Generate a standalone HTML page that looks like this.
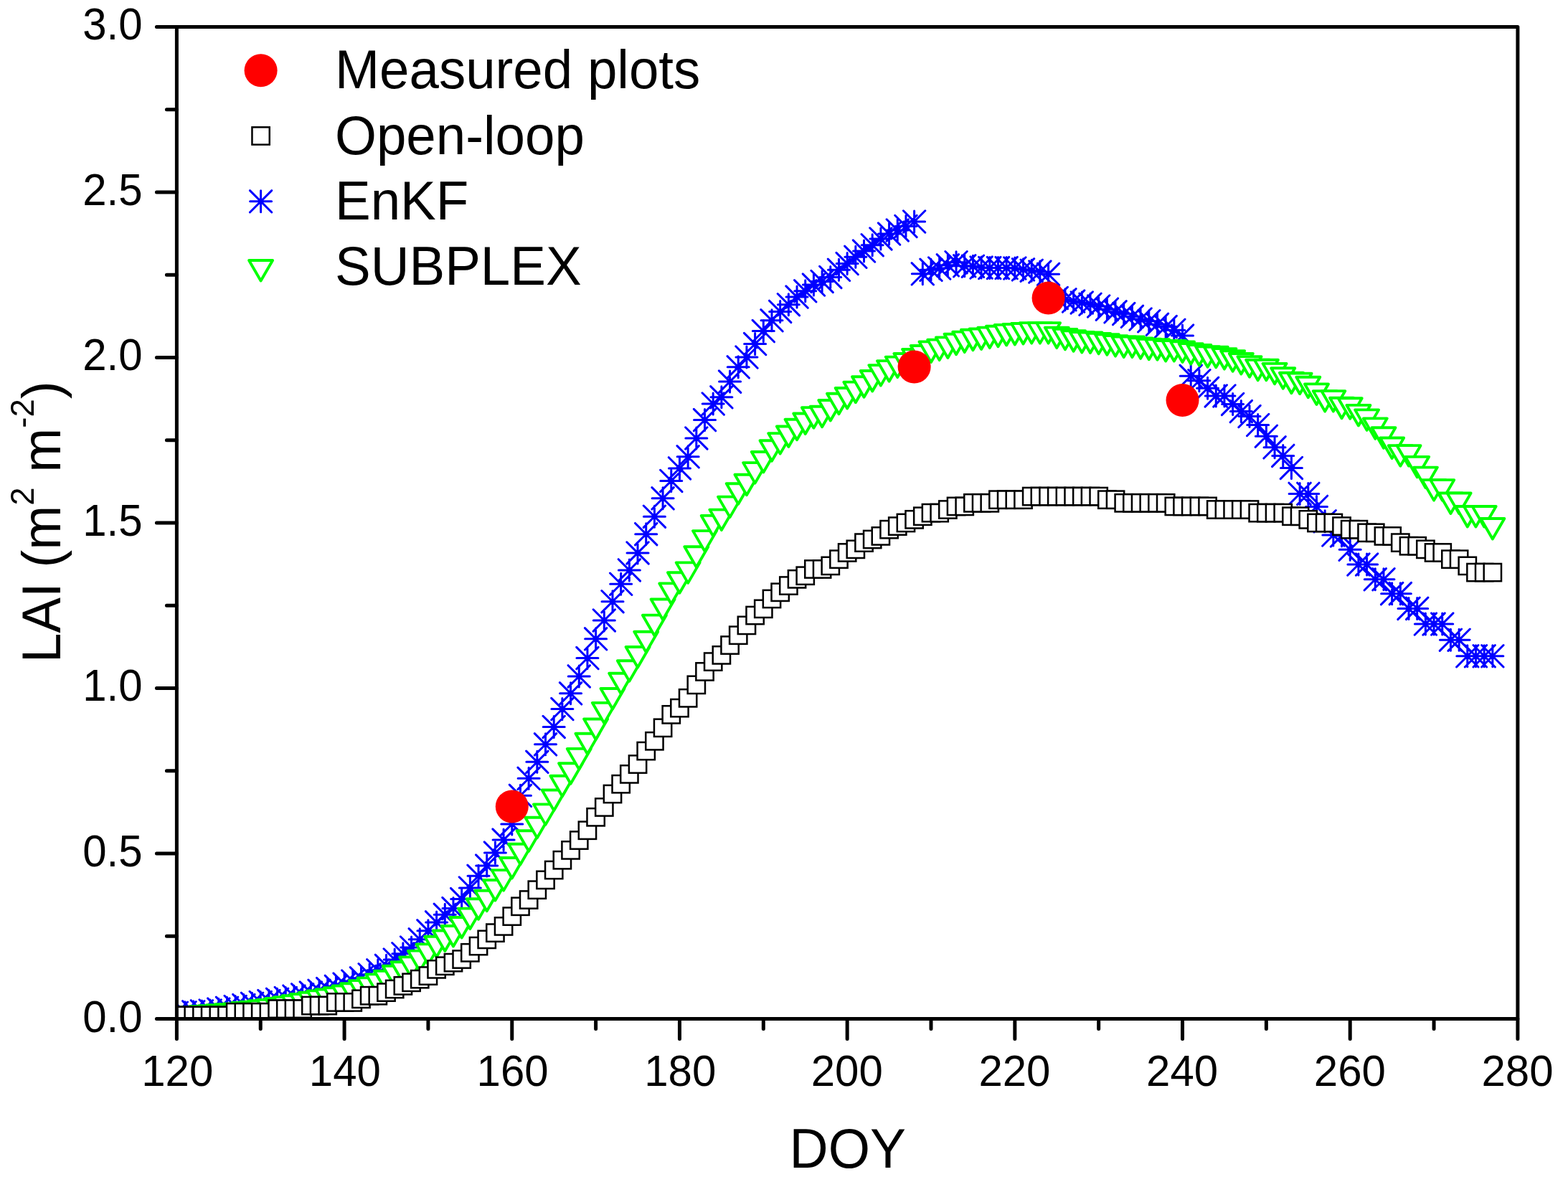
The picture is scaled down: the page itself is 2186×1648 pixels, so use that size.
<!DOCTYPE html>
<html><head><meta charset="utf-8"><title>LAI chart</title>
<style>html,body{margin:0;padding:0;background:#fff;}svg{display:block;}text{font-family:"Liberation Sans",Arial,sans-serif;fill:#000;}</style></head><body>
<svg width="2186" height="1648" viewBox="0 0 2186 1648">
<rect width="2186" height="1648" fill="#fff"/>
<defs><clipPath id="pc"><rect x="246.4" y="37.45" width="1869.5" height="1383.05"/></clipPath></defs>
<g clip-path="url(#pc)">
<path d="M231.4 1412.2H261.4M246.4 1397.2V1427.2M231.2 1397L261.6 1427.4M231.2 1427.4L261.6 1397M243.08 1411.74H273.08M258.08 1396.74V1426.74M242.88 1396.54L273.28 1426.94M242.88 1426.94L273.28 1396.54M254.77 1410.82H284.77M269.77 1395.82V1425.82M254.57 1395.62L284.97 1426.02M254.57 1426.02L284.97 1395.62M266.45 1409.9H296.45M281.45 1394.9V1424.9M266.25 1394.7L296.65 1425.1M266.25 1425.1L296.65 1394.7M278.14 1408.97H308.14M293.14 1393.97V1423.97M277.94 1393.77L308.34 1424.17M277.94 1424.17L308.34 1393.77M289.82 1407.13H319.82M304.82 1392.13V1422.13M289.62 1391.93L320.02 1422.33M289.62 1422.33L320.02 1391.93M301.51 1405.29H331.51M316.51 1390.29V1420.29M301.31 1390.09L331.71 1420.49M301.31 1420.49L331.71 1390.09M313.19 1403.44H343.19M328.19 1388.44V1418.44M312.99 1388.24L343.39 1418.64M312.99 1418.64L343.39 1388.24M324.88 1401.6H354.88M339.88 1386.6V1416.6M324.68 1386.4L355.07 1416.8M324.68 1416.8L355.07 1386.4M336.56 1399.29H366.56M351.56 1384.29V1414.29M336.36 1384.09L366.76 1414.49M336.36 1414.49L366.76 1384.09M348.24 1397.45H378.24M363.24 1382.45V1412.45M348.04 1382.25L378.44 1412.65M348.04 1412.65L378.44 1382.25M359.93 1395.61H389.93M374.93 1380.61V1410.61M359.73 1380.41L390.13 1410.81M359.73 1410.81L390.13 1380.41M371.61 1393.3H401.61M386.61 1378.3V1408.3M371.41 1378.1L401.81 1408.5M371.41 1408.5L401.81 1378.1M383.3 1391.46H413.3M398.3 1376.46V1406.46M383.1 1376.26L413.5 1406.66M383.1 1406.66L413.5 1376.26M394.98 1389.15H424.98M409.98 1374.15V1404.15M394.78 1373.95L425.18 1404.35M394.78 1404.35L425.18 1373.95M406.67 1386.85H436.67M421.67 1371.85V1401.85M406.47 1371.65L436.87 1402.05M406.47 1402.05L436.87 1371.65M418.35 1384.08H448.35M433.35 1369.08V1399.08M418.15 1368.88L448.55 1399.28M418.15 1399.28L448.55 1368.88M430.03 1381.31H460.03M445.03 1366.31V1396.31M429.83 1366.11L460.23 1396.51M429.83 1396.51L460.23 1366.11M441.72 1378.55H471.72M456.72 1363.55V1393.55M441.52 1363.35L471.92 1393.75M441.52 1393.75L471.92 1363.35M453.4 1375.32H483.4M468.4 1360.32V1390.32M453.2 1360.12L483.6 1390.52M453.2 1390.52L483.6 1360.12M465.09 1372.09H495.09M480.09 1357.09V1387.09M464.89 1356.89L495.29 1387.29M464.89 1387.29L495.29 1356.89M476.77 1367.94H506.77M491.77 1352.94V1382.94M476.57 1352.74L506.97 1383.14M476.57 1383.14L506.97 1352.74M488.46 1363.79H518.46M503.46 1348.79V1378.79M488.26 1348.59L518.66 1378.99M488.26 1378.99L518.66 1348.59M500.14 1358.72H530.14M515.14 1343.72V1373.72M499.94 1343.52L530.34 1373.92M499.94 1373.92L530.34 1343.52M511.82 1352.73H541.82M526.82 1337.73V1367.73M511.62 1337.53L542.02 1367.93M511.62 1367.93L542.02 1337.53M523.51 1346.28H553.51M538.51 1331.28V1361.28M523.31 1331.08L553.71 1361.48M523.31 1361.48L553.71 1331.08M535.19 1337.98H565.19M550.19 1322.98V1352.98M534.99 1322.78L565.39 1353.18M534.99 1353.18L565.39 1322.78M546.88 1329.68H576.88M561.88 1314.68V1344.68M546.68 1314.48L577.08 1344.88M546.68 1344.88L577.08 1314.48M558.56 1320.92H588.56M573.56 1305.92V1335.92M558.36 1305.72L588.76 1336.12M558.36 1336.12L588.76 1305.72M570.25 1309.86H600.25M585.25 1294.86V1324.86M570.05 1294.66L600.45 1325.06M570.05 1325.06L600.45 1294.66M581.93 1297.87H611.93M596.93 1282.87V1312.87M581.73 1282.67L612.13 1313.07M581.73 1313.07L612.13 1282.67M593.62 1285.88H623.62M608.62 1270.88V1300.88M593.42 1270.68L623.82 1301.08M593.42 1301.08L623.82 1270.68M605.3 1275.28H635.3M620.3 1260.28V1290.28M605.1 1260.08L635.5 1290.48M605.1 1290.48L635.5 1260.08M616.98 1266.52H646.98M631.98 1251.52V1281.52M616.78 1251.32L647.18 1281.72M616.78 1281.72L647.18 1251.32M628.67 1253.61H658.67M643.67 1238.61V1268.61M628.47 1238.41L658.87 1268.81M628.47 1268.81L658.87 1238.41M640.35 1237.94H670.35M655.35 1222.94V1252.94M640.15 1222.74L670.55 1253.14M640.15 1253.14L670.55 1222.74M652.04 1221.34H682.04M667.04 1206.34V1236.34M651.84 1206.14L682.24 1236.54M651.84 1236.54L682.24 1206.14M663.72 1207.05H693.72M678.72 1192.05V1222.05M663.52 1191.85L693.92 1222.25M663.52 1222.25L693.92 1191.85M675.41 1189.07H705.41M690.41 1174.07V1204.07M675.21 1173.87L705.61 1204.27M675.21 1204.27L705.61 1173.87M687.09 1171.09H717.09M702.09 1156.09V1186.09M686.89 1155.89L717.29 1186.29M686.89 1186.29L717.29 1155.89M698.77 1148.96H728.77M713.77 1133.96V1163.96M698.57 1133.76L728.98 1164.16M698.57 1164.16L728.98 1133.76M710.46 1109.31H740.46M725.46 1094.31V1124.31M710.26 1094.11L740.66 1124.51M710.26 1124.51L740.66 1094.11M722.14 1085.34H752.14M737.14 1070.34V1100.34M721.94 1070.14L752.34 1100.54M721.94 1100.54L752.34 1070.14M733.83 1062.29H763.83M748.83 1047.29V1077.29M733.63 1047.09L764.03 1077.49M733.63 1077.49L764.03 1047.09M745.51 1037.86H775.51M760.51 1022.86V1052.86M745.31 1022.66L775.71 1053.06M745.31 1053.06L775.71 1022.66M757.2 1013.42H787.2M772.2 998.42V1028.42M757 998.22L787.4 1028.62M757 1028.62L787.4 998.22M768.88 988.53H798.88M783.88 973.53V1003.53M768.68 973.33L799.08 1003.73M768.68 1003.73L799.08 973.33M780.57 966.86H810.57M795.57 951.86V981.86M780.37 951.66L810.77 982.06M780.37 982.06L810.77 951.66M792.25 942.89H822.25M807.25 927.89V957.89M792.05 927.69L822.45 958.09M792.05 958.09L822.45 927.69M803.93 917.53H833.93M818.93 902.53V932.53M803.73 902.33L834.13 932.73M803.73 932.73L834.13 902.33M815.62 890.79H845.62M830.62 875.79V905.79M815.42 875.59L845.82 905.99M815.42 905.99L845.82 875.59M827.3 864.97H857.3M842.3 849.97V879.97M827.1 849.77L857.5 880.17M827.1 880.17L857.5 849.77M838.99 838.7H868.99M853.99 823.7V853.7M838.79 823.5L869.19 853.9M838.79 853.9L869.19 823.5M850.67 814.26H880.67M865.67 799.26V829.26M850.47 799.06L880.87 829.46M850.47 829.46L880.87 799.06M862.36 794.9H892.36M877.36 779.9V809.9M862.16 779.7L892.56 810.1M862.16 810.1L892.56 779.7M874.04 770.93H904.04M889.04 755.93V785.93M873.84 755.73L904.24 786.13M873.84 786.13L904.24 755.73M885.72 744.65H915.72M900.72 729.65V759.65M885.52 729.45L915.92 759.85M885.52 759.85L915.92 729.45M897.41 720.22H927.41M912.41 705.22V735.22M897.21 705.02L927.61 735.42M897.21 735.42L927.61 705.02M909.09 694.86H939.09M924.09 679.86V709.86M908.89 679.66L939.29 710.06M908.89 710.06L939.29 679.66M920.78 670.43H950.78M935.78 655.43V685.43M920.58 655.23L950.98 685.63M920.58 685.63L950.98 655.23M932.46 652.91H962.46M947.46 637.91V667.91M932.26 637.71L962.66 668.11M932.26 668.11L962.66 637.71M944.15 636.77H974.15M959.15 621.77V651.77M943.95 621.57L974.35 651.97M943.95 651.97L974.35 621.57M955.83 610.95H985.83M970.83 595.95V625.95M955.63 595.75L986.03 626.15M955.63 626.15L986.03 595.75M967.52 585.6H997.52M982.52 570.6V600.6M967.32 570.4L997.72 600.8M967.32 600.8L997.72 570.4M979.2 563.01H1009.2M994.2 548.01V578.01M979 547.81L1009.4 578.21M979 578.21L1009.4 547.81M990.88 553.79H1020.88M1005.88 538.79V568.79M990.68 538.59L1021.08 568.99M990.68 568.99L1021.08 538.59M1002.57 532.12H1032.57M1017.57 517.12V547.12M1002.37 516.92L1032.77 547.32M1002.37 547.32L1032.77 516.92M1014.25 511.84H1044.25M1029.25 496.84V526.84M1014.05 496.64L1044.45 527.04M1014.05 527.04L1044.45 496.64M1025.94 498.01H1055.94M1040.94 483.01V513.01M1025.74 482.81L1056.14 513.21M1025.74 513.21L1056.14 482.81M1037.62 479.56H1067.62M1052.62 464.56V494.56M1037.42 464.36L1067.82 494.76M1037.42 494.76L1067.82 464.36M1049.31 461.59H1079.31M1064.31 446.59V476.59M1049.11 446.39L1079.51 476.79M1049.11 476.79L1079.51 446.39M1060.99 446.83H1090.99M1075.99 431.83V461.83M1060.79 431.63L1091.19 462.03M1060.79 462.03L1091.19 431.63M1072.67 434.39H1102.67M1087.67 419.39V449.39M1072.47 419.19L1102.88 449.59M1072.47 449.59L1102.88 419.19M1084.36 424.7H1114.36M1099.36 409.7V439.7M1084.16 409.5L1114.56 439.9M1084.16 439.9L1114.56 409.5M1096.04 414.1H1126.04M1111.04 399.1V429.1M1095.84 398.9L1126.24 429.3M1095.84 429.3L1126.24 398.9M1107.73 405.8H1137.73M1122.73 390.8V420.8M1107.53 390.6L1137.93 421M1107.53 421L1137.93 390.6M1119.41 397.04H1149.41M1134.41 382.04V412.04M1119.21 381.84L1149.61 412.24M1119.21 412.24L1149.61 381.84M1131.1 392.43H1161.1M1146.1 377.43V407.43M1130.9 377.23L1161.3 407.63M1130.9 407.63L1161.3 377.23M1142.78 386.44H1172.78M1157.78 371.44V401.44M1142.58 371.24L1172.98 401.64M1142.58 401.64L1172.98 371.24M1154.47 376.3H1184.47M1169.47 361.3V391.3M1154.27 361.1L1184.67 391.5M1154.27 391.5L1184.67 361.1M1166.15 367.54H1196.15M1181.15 352.54V382.54M1165.95 352.34L1196.35 382.74M1165.95 382.74L1196.35 352.34M1177.83 358.32H1207.83M1192.83 343.32V373.32M1177.63 343.12L1208.03 373.52M1177.63 373.52L1208.03 343.12M1189.52 350.02H1219.52M1204.52 335.02V365.02M1189.32 334.82L1219.72 365.22M1189.32 365.22L1219.72 334.82M1201.2 341.72H1231.2M1216.2 326.72V356.72M1201 326.52L1231.4 356.92M1201 356.92L1231.4 326.52M1212.89 332.96H1242.89M1227.89 317.96V347.96M1212.69 317.76L1243.09 348.16M1212.69 348.16L1243.09 317.76M1224.57 326.05H1254.57M1239.57 311.05V341.05M1224.37 310.85L1254.77 341.25M1224.37 341.25L1254.77 310.85M1236.26 320.98H1266.26M1251.26 305.98V335.98M1236.06 305.78L1266.46 336.18M1236.06 336.18L1266.46 305.78M1247.94 315.44H1277.94M1262.94 300.44V330.44M1247.74 300.24L1278.14 330.64M1247.74 330.64L1278.14 300.24M1259.62 308.99H1289.62M1274.62 293.99V323.99M1259.42 293.79L1289.83 324.19M1259.42 324.19L1289.83 293.79M1271.31 381.83H1301.31M1286.31 366.83V396.83M1271.11 366.63L1301.51 397.03M1271.11 397.03L1301.51 366.63M1282.99 376.3H1312.99M1297.99 361.3V391.3M1282.79 361.1L1313.19 391.5M1282.79 391.5L1313.19 361.1M1294.68 373.99H1324.68M1309.68 358.99V388.99M1294.48 358.79L1324.88 389.19M1294.48 389.19L1324.88 358.79M1306.36 369.84H1336.36M1321.36 354.84V384.84M1306.16 354.64L1336.56 385.04M1306.16 385.04L1336.56 354.64M1318.05 365.69H1348.05M1333.05 350.69V380.69M1317.85 350.49L1348.25 380.89M1317.85 380.89L1348.25 350.49M1329.73 370.77H1359.73M1344.73 355.77V385.77M1329.53 355.57L1359.93 385.97M1329.53 385.97L1359.93 355.57M1341.42 371.23H1371.42M1356.42 356.23V386.23M1341.22 356.03L1371.62 386.43M1341.22 386.43L1371.62 356.03M1353.1 373.07H1383.1M1368.1 358.07V388.07M1352.9 357.87L1383.3 388.27M1352.9 388.27L1383.3 357.87M1364.78 373.53H1394.78M1379.78 358.53V388.53M1364.58 358.33L1394.98 388.73M1364.58 388.73L1394.98 358.33M1376.47 373.53H1406.47M1391.47 358.53V388.53M1376.27 358.33L1406.67 388.73M1376.27 388.73L1406.67 358.33M1388.15 373.53H1418.15M1403.15 358.53V388.53M1387.95 358.33L1418.35 388.73M1387.95 388.73L1418.35 358.33M1399.84 373.99H1429.84M1414.84 358.99V388.99M1399.64 358.79L1430.04 389.19M1399.64 389.19L1430.04 358.79M1411.52 375.84H1441.52M1426.52 360.84V390.84M1411.32 360.64L1441.72 391.04M1411.32 391.04L1441.72 360.64M1423.21 377.22H1453.21M1438.21 362.22V392.22M1423.01 362.02L1453.41 392.42M1423.01 392.42L1453.41 362.02M1434.89 379.06H1464.89M1449.89 364.06V394.06M1434.69 363.86L1465.09 394.26M1434.69 394.26L1465.09 363.86M1446.58 382.29H1476.58M1461.58 367.29V397.29M1446.38 367.09L1476.78 397.49M1446.38 397.49L1476.78 367.09M1458.26 415.48H1488.26M1473.26 400.48V430.48M1458.06 400.28L1488.46 430.68M1458.06 430.68L1488.46 400.28M1469.94 417.79H1499.94M1484.94 402.79V432.79M1469.74 402.59L1500.14 432.99M1469.74 432.99L1500.14 402.59M1481.63 420.09H1511.63M1496.63 405.09V435.09M1481.43 404.89L1511.83 435.29M1481.43 435.29L1511.83 404.89M1493.31 421.94H1523.31M1508.31 406.94V436.94M1493.11 406.74L1523.51 437.14M1493.11 437.14L1523.51 406.74M1505 424.24H1535M1520 409.24V439.24M1504.8 409.04L1535.2 439.44M1504.8 439.44L1535.2 409.04M1516.68 427.01H1546.68M1531.68 412.01V442.01M1516.48 411.81L1546.88 442.21M1516.48 442.21L1546.88 411.81M1528.37 431.16H1558.37M1543.37 416.16V446.16M1528.17 415.96L1558.57 446.36M1528.17 446.36L1558.57 415.96M1540.05 434.85H1570.05M1555.05 419.85V449.85M1539.85 419.65L1570.25 450.05M1539.85 450.05L1570.25 419.65M1551.73 437.61H1581.73M1566.73 422.61V452.61M1551.53 422.41L1581.93 452.81M1551.53 452.81L1581.93 422.41M1563.42 441.3H1593.42M1578.42 426.3V456.3M1563.22 426.1L1593.62 456.5M1563.22 456.5L1593.62 426.1M1575.1 444.99H1605.1M1590.1 429.99V459.99M1574.9 429.79L1605.3 460.19M1574.9 460.19L1605.3 429.79M1586.79 447.75H1616.79M1601.79 432.75V462.75M1586.59 432.55L1616.99 462.95M1586.59 462.95L1616.99 432.55M1598.47 452.37H1628.47M1613.47 437.37V467.37M1598.27 437.17L1628.67 467.56M1598.27 467.56L1628.67 437.17M1610.16 455.59H1640.16M1625.16 440.59V470.59M1609.96 440.39L1640.36 470.79M1609.96 470.79L1640.36 440.39M1621.84 460.2H1651.84M1636.84 445.2V475.2M1621.64 445L1652.04 475.4M1621.64 475.4L1652.04 445M1633.53 468.04H1663.53M1648.53 453.04V483.04M1633.33 452.84L1663.73 483.24M1633.33 483.24L1663.73 452.84M1645.21 524.28H1675.21M1660.21 509.28V539.28M1645.01 509.08L1675.41 539.48M1645.01 539.48L1675.41 509.08M1656.89 530.74H1686.89M1671.89 515.74V545.74M1656.69 515.54L1687.09 545.94M1656.69 545.94L1687.09 515.54M1668.58 541.34H1698.58M1683.58 526.34V556.34M1668.38 526.14L1698.78 556.54M1668.38 556.54L1698.78 526.14M1680.26 551.94H1710.26M1695.26 536.94V566.94M1680.06 536.74L1710.46 567.14M1680.06 567.14L1710.46 536.74M1691.95 551.94H1721.95M1706.95 536.94V566.94M1691.75 536.74L1722.15 567.14M1691.75 567.14L1722.15 536.74M1703.63 563.47H1733.63M1718.63 548.47V578.47M1703.43 548.27L1733.83 578.67M1703.43 578.67L1733.83 548.27M1715.32 573.61H1745.32M1730.32 558.61V588.61M1715.12 558.41L1745.52 588.81M1715.12 588.81L1745.52 558.41M1727 580.53H1757M1742 565.53V595.53M1726.8 565.33L1757.2 595.73M1726.8 595.73L1757.2 565.33M1738.68 592.51H1768.68M1753.68 577.51V607.51M1738.48 577.31L1768.88 607.71M1738.48 607.71L1768.88 577.31M1750.37 608.19H1780.37M1765.37 593.19V623.19M1750.17 592.99L1780.57 623.39M1750.17 623.39L1780.57 592.99M1762.05 623.86H1792.05M1777.05 608.86V638.86M1761.85 608.66L1792.25 639.06M1761.85 639.06L1792.25 608.66M1773.74 635.39H1803.74M1788.74 620.39V650.39M1773.54 620.19L1803.94 650.59M1773.54 650.59L1803.94 620.19M1785.42 652.45H1815.42M1800.42 637.45V667.45M1785.22 637.25L1815.62 667.65M1785.22 667.65L1815.62 637.25M1797.11 688.41H1827.11M1812.11 673.41V703.41M1796.91 673.21L1827.31 703.61M1796.91 703.61L1827.31 673.21M1808.79 688.41H1838.79M1823.79 673.41V703.41M1808.59 673.21L1838.99 703.61M1808.59 703.61L1838.99 673.21M1820.47 706.39H1850.47M1835.47 691.39V721.39M1820.27 691.19L1850.67 721.59M1820.27 721.59L1850.67 691.19M1832.16 726.67H1862.16M1847.16 711.67V741.67M1831.96 711.47L1862.36 741.87M1831.96 741.87L1862.36 711.47M1843.84 746.03H1873.84M1858.84 731.03V761.03M1843.64 730.83L1874.04 761.23M1843.64 761.23L1874.04 730.83M1855.53 746.95H1885.53M1870.53 731.95V761.95M1855.33 731.75L1885.73 762.15M1855.33 762.15L1885.73 731.75M1867.21 766.32H1897.21M1882.21 751.32V781.32M1867.01 751.12L1897.41 781.52M1867.01 781.52L1897.41 751.12M1878.9 787.06H1908.9M1893.9 772.06V802.06M1878.7 771.86L1909.1 802.26M1878.7 802.26L1909.1 771.86M1890.58 787.06H1920.58M1905.58 772.06V802.06M1890.38 771.86L1920.78 802.26M1890.38 802.26L1920.78 771.86M1902.27 807.81H1932.27M1917.27 792.81V822.81M1902.07 792.61L1932.47 823.01M1902.07 823.01L1932.47 792.61M1913.95 807.81H1943.95M1928.95 792.81V822.81M1913.75 792.61L1944.15 823.01M1913.75 823.01L1944.15 792.61M1925.63 827.63H1955.63M1940.63 812.63V842.63M1925.43 812.43L1955.83 842.83M1925.43 842.83L1955.83 812.43M1937.32 827.63H1967.32M1952.32 812.63V842.63M1937.12 812.43L1967.52 842.83M1937.12 842.83L1967.52 812.43M1949 848.38H1979M1964 833.38V863.38M1948.8 833.18L1979.2 863.58M1948.8 863.58L1979.2 833.18M1960.69 848.38H1990.69M1975.69 833.38V863.38M1960.49 833.18L1990.89 863.58M1960.49 863.58L1990.89 833.18M1972.37 870.05H2002.37M1987.37 855.05V885.05M1972.17 854.85L2002.57 885.25M1972.17 885.25L2002.57 854.85M1984.06 870.05H2014.06M1999.06 855.05V885.05M1983.86 854.85L2014.26 885.25M1983.86 885.25L2014.26 854.85M1995.74 870.05H2025.74M2010.74 855.05V885.05M1995.54 854.85L2025.94 885.25M1995.54 885.25L2025.94 854.85M2007.42 892.17H2037.42M2022.42 877.17V907.17M2007.22 876.97L2037.62 907.37M2007.22 907.37L2037.62 876.97M2019.11 892.17H2049.11M2034.11 877.17V907.17M2018.91 876.97L2049.31 907.37M2018.91 907.37L2049.31 876.97M2030.79 914.76H2060.79M2045.79 899.76V929.76M2030.59 899.56L2060.99 929.96M2030.59 929.96L2060.99 899.56M2042.48 914.76H2072.48M2057.48 899.76V929.76M2042.28 899.56L2072.68 929.96M2042.28 929.96L2072.68 899.56M2054.16 914.76H2084.16M2069.16 899.76V929.76M2053.96 899.56L2084.36 929.96M2053.96 929.96L2084.36 899.56M2065.85 914.76H2095.85M2080.85 899.76V929.76M2065.65 899.56L2096.05 929.96M2065.65 929.96L2096.05 899.56" fill="none" stroke="#00f" stroke-width="3" stroke-linecap="round"/>
<g fill="#fff" stroke="#0f0" stroke-width="3.9" stroke-linejoin="round">
<polygon points="229.9,1405.36 262.9,1405.36 246.4,1433.86"/>
<polygon points="241.58,1404.43 274.58,1404.43 258.08,1432.93"/>
<polygon points="253.27,1403.97 286.27,1403.97 269.77,1432.47"/>
<polygon points="264.95,1403.05 297.95,1403.05 281.45,1431.55"/>
<polygon points="276.64,1402.13 309.64,1402.13 293.14,1430.63"/>
<polygon points="288.32,1401.21 321.32,1401.21 304.82,1429.71"/>
<polygon points="300.01,1400.29 333.01,1400.29 316.51,1428.79"/>
<polygon points="311.69,1399.36 344.69,1399.36 328.19,1427.86"/>
<polygon points="323.38,1397.98 356.38,1397.98 339.88,1426.48"/>
<polygon points="335.06,1396.6 368.06,1396.6 351.56,1425.1"/>
<polygon points="346.74,1395.21 379.74,1395.21 363.24,1423.71"/>
<polygon points="358.43,1393.83 391.43,1393.83 374.93,1422.33"/>
<polygon points="370.11,1391.99 403.11,1391.99 386.61,1420.49"/>
<polygon points="381.8,1390.14 414.8,1390.14 398.3,1418.64"/>
<polygon points="393.48,1388.3 426.48,1388.3 409.98,1416.8"/>
<polygon points="405.17,1385.99 438.17,1385.99 421.67,1414.49"/>
<polygon points="416.85,1383.69 449.85,1383.69 433.35,1412.19"/>
<polygon points="428.53,1381.38 461.53,1381.38 445.03,1409.88"/>
<polygon points="440.22,1379.54 473.22,1379.54 456.72,1408.04"/>
<polygon points="451.9,1377.23 484.9,1377.23 468.4,1405.73"/>
<polygon points="463.59,1374.47 496.59,1374.47 480.09,1402.97"/>
<polygon points="475.27,1371.24 508.27,1371.24 491.77,1399.74"/>
<polygon points="486.96,1367.09 519.96,1367.09 503.46,1395.59"/>
<polygon points="498.64,1363.4 531.64,1363.4 515.14,1391.9"/>
<polygon points="510.32,1358.33 543.32,1358.33 526.82,1386.83"/>
<polygon points="522.01,1353.72 555.01,1353.72 538.51,1382.22"/>
<polygon points="533.69,1346.81 566.69,1346.81 550.19,1375.31"/>
<polygon points="545.38,1341.28 578.38,1341.28 561.88,1369.78"/>
<polygon points="557.06,1334.36 590.06,1334.36 573.56,1362.86"/>
<polygon points="568.75,1325.6 601.75,1325.6 585.25,1354.1"/>
<polygon points="580.43,1316.38 613.43,1316.38 596.93,1344.88"/>
<polygon points="592.12,1305.78 625.12,1305.78 608.62,1334.28"/>
<polygon points="603.8,1297.48 636.8,1297.48 620.3,1325.98"/>
<polygon points="615.48,1291.02 648.48,1291.02 631.98,1319.52"/>
<polygon points="627.17,1279.04 660.17,1279.04 643.67,1307.54"/>
<polygon points="638.85,1266.59 671.85,1266.59 655.35,1295.09"/>
<polygon points="650.54,1253.22 683.54,1253.22 667.04,1281.72"/>
<polygon points="662.22,1241.7 695.22,1241.7 678.72,1270.2"/>
<polygon points="673.91,1226.94 706.91,1226.94 690.41,1255.44"/>
<polygon points="685.59,1213.11 718.59,1213.11 702.09,1241.61"/>
<polygon points="697.27,1196.06 730.27,1196.06 713.77,1224.56"/>
<polygon points="708.96,1176.69 741.96,1176.69 725.46,1205.19"/>
<polygon points="720.64,1158.25 753.64,1158.25 737.14,1186.75"/>
<polygon points="732.33,1139.81 765.33,1139.81 748.83,1168.31"/>
<polygon points="744.01,1121.37 777.01,1121.37 760.51,1149.87"/>
<polygon points="755.7,1101.55 788.7,1101.55 772.2,1130.05"/>
<polygon points="767.38,1081.72 800.38,1081.72 783.88,1110.22"/>
<polygon points="779.07,1064.2 812.07,1064.2 795.57,1092.7"/>
<polygon points="790.75,1043.92 823.75,1043.92 807.25,1072.42"/>
<polygon points="802.43,1022.71 835.43,1022.71 818.93,1051.21"/>
<polygon points="814.12,1002.43 847.12,1002.43 830.62,1030.93"/>
<polygon points="825.8,979.84 858.8,979.84 842.3,1008.34"/>
<polygon points="837.49,960.01 870.49,960.01 853.99,988.51"/>
<polygon points="849.17,938.81 882.17,938.81 865.67,967.31"/>
<polygon points="860.86,921.29 893.86,921.29 877.36,949.79"/>
<polygon points="872.54,901.93 905.54,901.93 889.04,930.43"/>
<polygon points="884.22,880.72 917.22,880.72 900.72,909.22"/>
<polygon points="895.91,857.67 928.91,857.67 912.41,886.17"/>
<polygon points="907.59,835.54 940.59,835.54 924.09,864.04"/>
<polygon points="919.28,813.41 952.28,813.41 935.78,841.91"/>
<polygon points="930.96,798.2 963.96,798.2 947.46,826.7"/>
<polygon points="942.65,784.37 975.65,784.37 959.15,812.87"/>
<polygon points="954.33,762.24 987.33,762.24 970.83,790.74"/>
<polygon points="966.02,740.11 999.02,740.11 982.52,768.61"/>
<polygon points="977.7,718.9 1010.7,718.9 994.2,747.4"/>
<polygon points="989.38,710.6 1022.38,710.6 1005.88,739.1"/>
<polygon points="1001.07,692.63 1034.07,692.63 1017.57,721.13"/>
<polygon points="1012.75,674.18 1045.75,674.18 1029.25,702.68"/>
<polygon points="1024.44,661.74 1057.44,661.74 1040.94,690.24"/>
<polygon points="1036.12,645.14 1069.12,645.14 1052.62,673.64"/>
<polygon points="1047.81,629.93 1080.81,629.93 1064.31,658.43"/>
<polygon points="1059.49,614.25 1092.49,614.25 1075.99,642.75"/>
<polygon points="1071.17,604.11 1104.17,604.11 1087.67,632.61"/>
<polygon points="1082.86,594.43 1115.86,594.43 1099.36,622.93"/>
<polygon points="1094.54,584.75 1127.54,584.75 1111.04,613.25"/>
<polygon points="1106.23,576.45 1139.23,576.45 1122.73,604.95"/>
<polygon points="1117.91,568.15 1150.91,568.15 1134.41,596.65"/>
<polygon points="1129.6,566.77 1162.6,566.77 1146.1,595.27"/>
<polygon points="1141.28,558.01 1174.28,558.01 1157.78,586.51"/>
<polygon points="1152.97,548.79 1185.97,548.79 1169.47,577.29"/>
<polygon points="1164.65,540.95 1197.65,540.95 1181.15,569.45"/>
<polygon points="1176.33,532.65 1209.33,532.65 1192.83,561.15"/>
<polygon points="1188.02,525.28 1221.02,525.28 1204.52,553.78"/>
<polygon points="1199.7,516.98 1232.7,516.98 1216.2,545.48"/>
<polygon points="1211.39,509.14 1244.39,509.14 1227.89,537.64"/>
<polygon points="1223.07,503.15 1256.07,503.15 1239.57,531.65"/>
<polygon points="1234.76,497.61 1267.76,497.61 1251.26,526.11"/>
<polygon points="1246.44,493 1279.44,493 1262.94,521.5"/>
<polygon points="1258.12,487.01 1291.12,487.01 1274.62,515.51"/>
<polygon points="1269.81,481.94 1302.81,481.94 1286.31,510.44"/>
<polygon points="1281.49,476.41 1314.49,476.41 1297.99,504.91"/>
<polygon points="1293.18,473.64 1326.18,473.64 1309.68,502.14"/>
<polygon points="1304.86,470.41 1337.86,470.41 1321.36,498.91"/>
<polygon points="1316.55,465.8 1349.55,465.8 1333.05,494.3"/>
<polygon points="1328.23,462.58 1361.23,462.58 1344.73,491.08"/>
<polygon points="1339.92,459.81 1372.92,459.81 1356.42,488.31"/>
<polygon points="1351.6,458.43 1384.6,458.43 1368.1,486.93"/>
<polygon points="1363.28,456.58 1396.28,456.58 1379.78,485.08"/>
<polygon points="1374.97,454.74 1407.97,454.74 1391.47,483.24"/>
<polygon points="1386.65,452.9 1419.65,452.9 1403.15,481.4"/>
<polygon points="1398.34,451.97 1431.34,451.97 1414.84,480.47"/>
<polygon points="1410.02,451.05 1443.02,451.05 1426.52,479.55"/>
<polygon points="1421.71,450.13 1454.71,450.13 1438.21,478.63"/>
<polygon points="1433.39,450.13 1466.39,450.13 1449.89,478.63"/>
<polygon points="1445.08,450.13 1478.08,450.13 1461.58,478.63"/>
<polygon points="1456.76,456.58 1489.76,456.58 1473.26,485.08"/>
<polygon points="1468.44,458.89 1501.44,458.89 1484.94,487.39"/>
<polygon points="1480.13,461.19 1513.13,461.19 1496.63,489.69"/>
<polygon points="1491.81,463.04 1524.81,463.04 1508.31,491.54"/>
<polygon points="1503.5,463.5 1536.5,463.5 1520,492"/>
<polygon points="1515.18,464.88 1548.18,464.88 1531.68,493.38"/>
<polygon points="1526.87,466.27 1559.87,466.27 1543.37,494.77"/>
<polygon points="1538.55,468.11 1571.55,468.11 1555.05,496.61"/>
<polygon points="1550.23,469.49 1583.23,469.49 1566.73,497.99"/>
<polygon points="1561.92,469.49 1594.92,469.49 1578.42,497.99"/>
<polygon points="1573.6,471.34 1606.6,471.34 1590.1,499.84"/>
<polygon points="1585.29,472.72 1618.29,472.72 1601.79,501.22"/>
<polygon points="1596.97,473.18 1629.97,473.18 1613.47,501.68"/>
<polygon points="1608.66,475.03 1641.66,475.03 1625.16,503.53"/>
<polygon points="1620.34,475.03 1653.34,475.03 1636.84,503.53"/>
<polygon points="1632.03,476.41 1665.03,476.41 1648.53,504.91"/>
<polygon points="1643.71,479.17 1676.71,479.17 1660.21,507.67"/>
<polygon points="1655.39,481.02 1688.39,481.02 1671.89,509.52"/>
<polygon points="1667.08,483.32 1700.08,483.32 1683.58,511.82"/>
<polygon points="1678.76,483.78 1711.76,483.78 1695.26,512.28"/>
<polygon points="1690.45,486.09 1723.45,486.09 1706.95,514.59"/>
<polygon points="1702.13,489.32 1735.13,489.32 1718.63,517.82"/>
<polygon points="1713.82,493 1746.82,493 1730.32,521.5"/>
<polygon points="1725.5,497.15 1758.5,497.15 1742,525.65"/>
<polygon points="1737.18,501.76 1770.18,501.76 1753.68,530.26"/>
<polygon points="1748.87,501.76 1781.87,501.76 1765.37,530.26"/>
<polygon points="1760.55,506.84 1793.55,506.84 1777.05,535.34"/>
<polygon points="1772.24,513.29 1805.24,513.29 1788.74,541.79"/>
<polygon points="1783.92,519.74 1816.92,519.74 1800.42,548.24"/>
<polygon points="1795.61,520.67 1828.61,520.67 1812.11,549.17"/>
<polygon points="1807.29,525.74 1840.29,525.74 1823.79,554.24"/>
<polygon points="1818.97,535.42 1851.97,535.42 1835.47,563.92"/>
<polygon points="1830.66,545.1 1863.66,545.1 1847.16,573.6"/>
<polygon points="1842.34,545.1 1875.34,545.1 1858.84,573.6"/>
<polygon points="1854.03,554.78 1887.03,554.78 1870.53,583.28"/>
<polygon points="1865.71,555.24 1898.71,555.24 1882.21,583.74"/>
<polygon points="1877.4,564.92 1910.4,564.92 1893.9,593.42"/>
<polygon points="1889.08,571.38 1922.08,571.38 1905.58,599.88"/>
<polygon points="1900.77,583.36 1933.77,583.36 1917.27,611.86"/>
<polygon points="1912.45,596.27 1945.45,596.27 1928.95,624.77"/>
<polygon points="1924.13,610.56 1957.13,610.56 1940.63,639.06"/>
<polygon points="1935.82,621.17 1968.82,621.17 1952.32,649.67"/>
<polygon points="1947.5,621.17 1980.5,621.17 1964,649.67"/>
<polygon points="1959.19,636.84 1992.19,636.84 1975.69,665.34"/>
<polygon points="1970.87,651.59 2003.87,651.59 1987.37,680.09"/>
<polygon points="1982.56,669.11 2015.56,669.11 1999.06,697.61"/>
<polygon points="1994.24,669.11 2027.24,669.11 2010.74,697.61"/>
<polygon points="2005.92,687.55 2038.92,687.55 2022.42,716.05"/>
<polygon points="2017.61,687.55 2050.61,687.55 2034.11,716.05"/>
<polygon points="2029.29,705.99 2062.29,705.99 2045.79,734.49"/>
<polygon points="2040.98,705.99 2073.98,705.99 2057.48,734.49"/>
<polygon points="2052.66,705.99 2085.66,705.99 2069.16,734.49"/>
<polygon points="2064.35,723.05 2097.35,723.05 2080.85,751.55"/>
</g>
<g fill="#fff" stroke="#000" stroke-width="2.5">
<rect x="234.25" y="1403.74" width="24.3" height="24.3"/>
<rect x="245.93" y="1403.74" width="24.3" height="24.3"/>
<rect x="257.62" y="1403.74" width="24.3" height="24.3"/>
<rect x="269.3" y="1403.74" width="24.3" height="24.3"/>
<rect x="280.99" y="1403.74" width="24.3" height="24.3"/>
<rect x="292.67" y="1403.74" width="24.3" height="24.3"/>
<rect x="304.36" y="1403.74" width="24.3" height="24.3"/>
<rect x="316.04" y="1399.13" width="24.3" height="24.3"/>
<rect x="327.73" y="1399.13" width="24.3" height="24.3"/>
<rect x="339.41" y="1399.13" width="24.3" height="24.3"/>
<rect x="351.09" y="1399.13" width="24.3" height="24.3"/>
<rect x="362.78" y="1399.13" width="24.3" height="24.3"/>
<rect x="374.46" y="1394.52" width="24.3" height="24.3"/>
<rect x="386.15" y="1394.52" width="24.3" height="24.3"/>
<rect x="397.83" y="1394.52" width="24.3" height="24.3"/>
<rect x="409.52" y="1394.52" width="24.3" height="24.3"/>
<rect x="421.2" y="1389.91" width="24.3" height="24.3"/>
<rect x="432.88" y="1389.91" width="24.3" height="24.3"/>
<rect x="444.57" y="1389.91" width="24.3" height="24.3"/>
<rect x="456.25" y="1385.3" width="24.3" height="24.3"/>
<rect x="467.94" y="1385.3" width="24.3" height="24.3"/>
<rect x="479.62" y="1385.3" width="24.3" height="24.3"/>
<rect x="491.31" y="1380.69" width="24.3" height="24.3"/>
<rect x="502.99" y="1376.08" width="24.3" height="24.3"/>
<rect x="514.67" y="1376.08" width="24.3" height="24.3"/>
<rect x="526.36" y="1371.47" width="24.3" height="24.3"/>
<rect x="538.04" y="1366.86" width="24.3" height="24.3"/>
<rect x="549.73" y="1362.25" width="24.3" height="24.3"/>
<rect x="561.41" y="1357.64" width="24.3" height="24.3"/>
<rect x="573.1" y="1353.03" width="24.3" height="24.3"/>
<rect x="584.78" y="1348.42" width="24.3" height="24.3"/>
<rect x="596.47" y="1339.2" width="24.3" height="24.3"/>
<rect x="608.15" y="1334.59" width="24.3" height="24.3"/>
<rect x="619.83" y="1329.98" width="24.3" height="24.3"/>
<rect x="631.52" y="1325.37" width="24.3" height="24.3"/>
<rect x="643.2" y="1316.15" width="24.3" height="24.3"/>
<rect x="654.89" y="1306.93" width="24.3" height="24.3"/>
<rect x="666.57" y="1297.71" width="24.3" height="24.3"/>
<rect x="678.26" y="1288.49" width="24.3" height="24.3"/>
<rect x="689.94" y="1279.27" width="24.3" height="24.3"/>
<rect x="701.62" y="1265.43" width="24.3" height="24.3"/>
<rect x="713.31" y="1251.6" width="24.3" height="24.3"/>
<rect x="724.99" y="1242.38" width="24.3" height="24.3"/>
<rect x="736.68" y="1228.55" width="24.3" height="24.3"/>
<rect x="748.36" y="1214.72" width="24.3" height="24.3"/>
<rect x="760.05" y="1200.89" width="24.3" height="24.3"/>
<rect x="771.73" y="1187.06" width="24.3" height="24.3"/>
<rect x="783.42" y="1173.23" width="24.3" height="24.3"/>
<rect x="795.1" y="1159.4" width="24.3" height="24.3"/>
<rect x="806.78" y="1145.57" width="24.3" height="24.3"/>
<rect x="818.47" y="1127.13" width="24.3" height="24.3"/>
<rect x="830.15" y="1113.3" width="24.3" height="24.3"/>
<rect x="841.84" y="1094.86" width="24.3" height="24.3"/>
<rect x="853.52" y="1081.03" width="24.3" height="24.3"/>
<rect x="865.21" y="1067.2" width="24.3" height="24.3"/>
<rect x="876.89" y="1053.37" width="24.3" height="24.3"/>
<rect x="888.57" y="1034.93" width="24.3" height="24.3"/>
<rect x="900.26" y="1021.1" width="24.3" height="24.3"/>
<rect x="911.94" y="1002.66" width="24.3" height="24.3"/>
<rect x="923.63" y="984.21" width="24.3" height="24.3"/>
<rect x="935.31" y="974.99" width="24.3" height="24.3"/>
<rect x="947" y="961.16" width="24.3" height="24.3"/>
<rect x="958.68" y="942.72" width="24.3" height="24.3"/>
<rect x="970.37" y="924.28" width="24.3" height="24.3"/>
<rect x="982.05" y="910.45" width="24.3" height="24.3"/>
<rect x="993.73" y="901.23" width="24.3" height="24.3"/>
<rect x="1005.42" y="887.4" width="24.3" height="24.3"/>
<rect x="1017.1" y="873.57" width="24.3" height="24.3"/>
<rect x="1028.79" y="859.74" width="24.3" height="24.3"/>
<rect x="1040.47" y="845.91" width="24.3" height="24.3"/>
<rect x="1052.16" y="836.69" width="24.3" height="24.3"/>
<rect x="1063.84" y="822.86" width="24.3" height="24.3"/>
<rect x="1075.52" y="813.64" width="24.3" height="24.3"/>
<rect x="1087.21" y="804.42" width="24.3" height="24.3"/>
<rect x="1098.89" y="795.2" width="24.3" height="24.3"/>
<rect x="1110.58" y="790.59" width="24.3" height="24.3"/>
<rect x="1122.26" y="781.37" width="24.3" height="24.3"/>
<rect x="1133.95" y="781.37" width="24.3" height="24.3"/>
<rect x="1145.63" y="776.76" width="24.3" height="24.3"/>
<rect x="1157.32" y="767.54" width="24.3" height="24.3"/>
<rect x="1169" y="758.32" width="24.3" height="24.3"/>
<rect x="1180.68" y="753.71" width="24.3" height="24.3"/>
<rect x="1192.37" y="744.49" width="24.3" height="24.3"/>
<rect x="1204.05" y="739.88" width="24.3" height="24.3"/>
<rect x="1215.74" y="735.27" width="24.3" height="24.3"/>
<rect x="1227.42" y="726.05" width="24.3" height="24.3"/>
<rect x="1239.11" y="721.44" width="24.3" height="24.3"/>
<rect x="1250.79" y="716.83" width="24.3" height="24.3"/>
<rect x="1262.47" y="712.21" width="24.3" height="24.3"/>
<rect x="1274.16" y="707.6" width="24.3" height="24.3"/>
<rect x="1285.84" y="702.99" width="24.3" height="24.3"/>
<rect x="1297.53" y="702.99" width="24.3" height="24.3"/>
<rect x="1309.21" y="698.38" width="24.3" height="24.3"/>
<rect x="1320.9" y="693.77" width="24.3" height="24.3"/>
<rect x="1332.58" y="693.77" width="24.3" height="24.3"/>
<rect x="1344.27" y="689.16" width="24.3" height="24.3"/>
<rect x="1355.95" y="689.16" width="24.3" height="24.3"/>
<rect x="1367.63" y="689.16" width="24.3" height="24.3"/>
<rect x="1379.32" y="684.55" width="24.3" height="24.3"/>
<rect x="1391" y="684.55" width="24.3" height="24.3"/>
<rect x="1402.69" y="684.55" width="24.3" height="24.3"/>
<rect x="1414.37" y="684.55" width="24.3" height="24.3"/>
<rect x="1426.06" y="679.94" width="24.3" height="24.3"/>
<rect x="1437.74" y="679.94" width="24.3" height="24.3"/>
<rect x="1449.42" y="679.94" width="24.3" height="24.3"/>
<rect x="1461.11" y="679.94" width="24.3" height="24.3"/>
<rect x="1472.79" y="679.94" width="24.3" height="24.3"/>
<rect x="1484.48" y="679.94" width="24.3" height="24.3"/>
<rect x="1496.16" y="679.94" width="24.3" height="24.3"/>
<rect x="1507.85" y="679.94" width="24.3" height="24.3"/>
<rect x="1519.53" y="679.94" width="24.3" height="24.3"/>
<rect x="1531.22" y="684.55" width="24.3" height="24.3"/>
<rect x="1542.9" y="684.55" width="24.3" height="24.3"/>
<rect x="1554.58" y="689.16" width="24.3" height="24.3"/>
<rect x="1566.27" y="689.16" width="24.3" height="24.3"/>
<rect x="1577.95" y="689.16" width="24.3" height="24.3"/>
<rect x="1589.64" y="689.16" width="24.3" height="24.3"/>
<rect x="1601.32" y="689.16" width="24.3" height="24.3"/>
<rect x="1613.01" y="689.16" width="24.3" height="24.3"/>
<rect x="1624.69" y="693.77" width="24.3" height="24.3"/>
<rect x="1636.38" y="693.77" width="24.3" height="24.3"/>
<rect x="1648.06" y="693.77" width="24.3" height="24.3"/>
<rect x="1659.74" y="693.77" width="24.3" height="24.3"/>
<rect x="1671.43" y="693.77" width="24.3" height="24.3"/>
<rect x="1683.11" y="698.38" width="24.3" height="24.3"/>
<rect x="1694.8" y="698.38" width="24.3" height="24.3"/>
<rect x="1706.48" y="698.38" width="24.3" height="24.3"/>
<rect x="1718.17" y="698.38" width="24.3" height="24.3"/>
<rect x="1729.85" y="698.38" width="24.3" height="24.3"/>
<rect x="1741.53" y="702.99" width="24.3" height="24.3"/>
<rect x="1753.22" y="702.99" width="24.3" height="24.3"/>
<rect x="1764.9" y="702.99" width="24.3" height="24.3"/>
<rect x="1776.59" y="702.99" width="24.3" height="24.3"/>
<rect x="1788.27" y="707.6" width="24.3" height="24.3"/>
<rect x="1799.96" y="707.6" width="24.3" height="24.3"/>
<rect x="1811.64" y="712.21" width="24.3" height="24.3"/>
<rect x="1823.32" y="716.83" width="24.3" height="24.3"/>
<rect x="1835.01" y="716.83" width="24.3" height="24.3"/>
<rect x="1846.69" y="716.83" width="24.3" height="24.3"/>
<rect x="1858.38" y="721.44" width="24.3" height="24.3"/>
<rect x="1870.06" y="726.05" width="24.3" height="24.3"/>
<rect x="1881.75" y="726.05" width="24.3" height="24.3"/>
<rect x="1893.43" y="730.66" width="24.3" height="24.3"/>
<rect x="1905.12" y="730.66" width="24.3" height="24.3"/>
<rect x="1916.8" y="735.27" width="24.3" height="24.3"/>
<rect x="1928.48" y="735.27" width="24.3" height="24.3"/>
<rect x="1940.17" y="744.49" width="24.3" height="24.3"/>
<rect x="1951.85" y="749.1" width="24.3" height="24.3"/>
<rect x="1963.54" y="749.1" width="24.3" height="24.3"/>
<rect x="1975.22" y="753.71" width="24.3" height="24.3"/>
<rect x="1986.91" y="758.32" width="24.3" height="24.3"/>
<rect x="1998.59" y="758.32" width="24.3" height="24.3"/>
<rect x="2010.27" y="767.54" width="24.3" height="24.3"/>
<rect x="2021.96" y="767.54" width="24.3" height="24.3"/>
<rect x="2033.64" y="776.76" width="24.3" height="24.3"/>
<rect x="2045.33" y="785.98" width="24.3" height="24.3"/>
<rect x="2057.01" y="785.98" width="24.3" height="24.3"/>
<rect x="2068.7" y="785.98" width="24.3" height="24.3"/>
</g>
<g fill="#f00">
<circle cx="713.77" cy="1124.53" r="23"/>
<circle cx="1274.62" cy="511.38" r="23"/>
<circle cx="1461.58" cy="415.48" r="23"/>
<circle cx="1648.53" cy="557.94" r="23"/>
</g>
</g>
<path d="M246.4 1420.5H218.4M246.4 1305.25H232.4M246.4 1189.99H218.4M246.4 1074.74H232.4M246.4 959.48H218.4M246.4 844.23H232.4M246.4 728.98H218.4M246.4 613.72H232.4M246.4 498.47H218.4M246.4 383.21H232.4M246.4 267.96H218.4M246.4 152.7H232.4M246.4 37.45H218.4M246.4 1420.5V1448.5M363.24 1420.5V1434.5M480.09 1420.5V1448.5M596.93 1420.5V1434.5M713.77 1420.5V1448.5M830.62 1420.5V1434.5M947.46 1420.5V1448.5M1064.31 1420.5V1434.5M1181.15 1420.5V1448.5M1297.99 1420.5V1434.5M1414.84 1420.5V1448.5M1531.68 1420.5V1434.5M1648.53 1420.5V1448.5M1765.37 1420.5V1434.5M1882.21 1420.5V1448.5M1999.06 1420.5V1434.5M2115.9 1420.5V1448.5" fill="none" stroke="#000" stroke-width="5" stroke-linecap="round"/>
<rect x="246.4" y="37.45" width="1869.5" height="1383.05" fill="none" stroke="#000" stroke-width="5" stroke-linejoin="round"/>
<text font-size="60" text-anchor="end" transform="translate(198.6 1438.5) scale(1 1.04)">0.0</text>
<text font-size="60" text-anchor="end" transform="translate(198.6 1207.99) scale(1 1.04)">0.5</text>
<text font-size="60" text-anchor="end" transform="translate(198.6 977.48) scale(1 1.04)">1.0</text>
<text font-size="60" text-anchor="end" transform="translate(198.6 746.98) scale(1 1.04)">1.5</text>
<text font-size="60" text-anchor="end" transform="translate(198.6 516.47) scale(1 1.04)">2.0</text>
<text font-size="60" text-anchor="end" transform="translate(198.6 285.96) scale(1 1.04)">2.5</text>
<text font-size="60" text-anchor="end" transform="translate(198.6 55.45) scale(1 1.04)">3.0</text>
<text font-size="60" text-anchor="middle" transform="translate(247.2 1514.3) scale(1 1.03)">120</text>
<text font-size="60" text-anchor="middle" transform="translate(480.89 1514.3) scale(1 1.03)">140</text>
<text font-size="60" text-anchor="middle" transform="translate(714.58 1514.3) scale(1 1.03)">160</text>
<text font-size="60" text-anchor="middle" transform="translate(948.26 1514.3) scale(1 1.03)">180</text>
<text font-size="60" text-anchor="middle" transform="translate(1180.75 1514.3) scale(1 1.03)">200</text>
<text font-size="60" text-anchor="middle" transform="translate(1414.44 1514.3) scale(1 1.03)">220</text>
<text font-size="60" text-anchor="middle" transform="translate(1648.12 1514.3) scale(1 1.03)">240</text>
<text font-size="60" text-anchor="middle" transform="translate(1881.81 1514.3) scale(1 1.03)">260</text>
<text font-size="60" text-anchor="middle" transform="translate(2115.5 1514.3) scale(1 1.03)">280</text>
<text font-size="74.5" text-anchor="middle" transform="translate(1181.75 1627.8) scale(1.006 1.037)">DOY</text>
<text font-size="74.5" transform="translate(83.8 924.1) rotate(-90) scale(1 1.025)">LAI (m<tspan font-size="45.5" dy="-36.4">2</tspan><tspan dy="36.4"> m</tspan><tspan font-size="45.5" dy="-36.4">-2</tspan><tspan dy="36.4">)</tspan></text>
<circle cx="363.6" cy="98.2" r="23" fill="#f00"/>
<rect x="351.45" y="177.35" width="24.3" height="24.3" fill="#fff" stroke="#000" stroke-width="2.5"/>
<path d="M348.6 280.8H378.6M363.6 265.8V295.8M348.4 265.6L378.8 296M348.4 296L378.8 265.6" fill="none" stroke="#00f" stroke-width="3" stroke-linecap="round"/>
<polygon points="347.1,362.95 380.1,362.95 363.6,391.45" fill="#fff" stroke="#0f0" stroke-width="3.9" stroke-linejoin="round"/>
<text font-size="74.5" transform="translate(467 123.3) scale(1 1.02)">Measured plots</text>
<text font-size="74.5" transform="translate(467 214.6) scale(1 1.02)">Open-loop</text>
<text font-size="74.5" transform="translate(467 305.9) scale(1 1.03)">EnKF</text>
<text font-size="74.5" transform="translate(467 397.2) scale(1 1.03)">SUBPLEX</text>
</svg>
</body></html>
